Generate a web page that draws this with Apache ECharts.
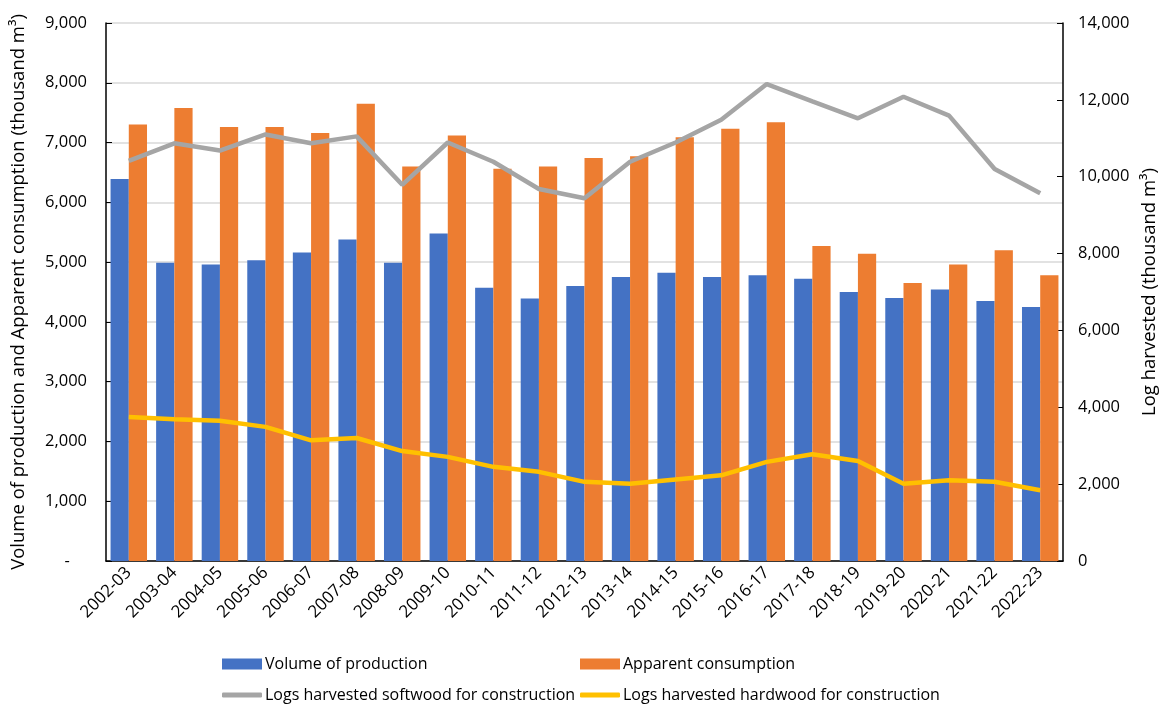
<!DOCTYPE html>
<html>
<head>
<meta charset="utf-8">
<script src="https://cdn.jsdelivr.net/npm/echarts@6/dist/echarts.min.js"></script>
<style>
    html, body { margin: 0; padding: 0; background: #fff; }
    #chart { width: 1159px; height: 704px; }
</style>
</head>
<body>
<div id="chart"></div>
<script>
var years = ['2002-03', '2003-04', '2004-05', '2005-06', '2006-07', '2007-08', '2008-09',
    '2009-10', '2010-11', '2011-12', '2012-13', '2013-14', '2014-15', '2015-16', '2016-17',
    '2017-18', '2018-19', '2019-20', '2020-21', '2021-22', '2022-23'];

// left axis (thousand m3)
var production = [6390, 4990, 4960, 5030, 5160, 5380, 4990, 5480, 4570, 4390, 4600,
    4750, 4820, 4750, 4780, 4720, 4500, 4400, 4540, 4350, 4250];
var consumption = [7300, 7580, 7260, 7260, 7160, 7650, 6600, 7120, 6560, 6600, 6740,
    6770, 7090, 7230, 7340, 5270, 5140, 4650, 4960, 5200, 4780];

// right axis (thousand m3)
var softwood = [10410, 10870, 10680, 11100, 10870, 11050, 9790, 10890, 10390, 9680, 9440,
    10390, 10890, 11480, 12410, 11960, 11520, 12080, 11590, 10200, 9570];
var hardwood = [3750, 3690, 3650, 3490, 3140, 3200, 2860, 2710, 2450, 2320, 2060,
    2010, 2120, 2230, 2580, 2780, 2600, 2010, 2100, 2060, 1840];

var names = ['Volume of production', 'Apparent consumption',
    'Logs harvested softwood for construction', 'Logs harvested hardwood for construction'];

var fontFamily = '"Open Sans", "DejaVu Sans", sans-serif';

function fmt(v) {
    //零值按会计格式显示为短横线
    if (v === 0) return '-    ';
    return v.toLocaleString('en-US');
}

function legendAt(name, left, top, icon) {
    return {
        data: [{name: name, icon: icon}],
        left: left,
        top: top,
        itemWidth: 40,
        itemHeight: icon === 'rect' ? 11 : 5,
        itemGap: 0,
        textStyle: {fontFamily: fontFamily, fontSize: 16, color: '#000', padding: [0, 0, 0, -2]}
    };
}

var myChart = echarts.init(document.getElementById('chart'), null, {renderer: 'canvas'});

var option = {
    animation: false,
    textStyle: {fontFamily: fontFamily},
    grid: {left: 106, right: 96, top: 23, bottom: 143, outerBoundsMode: 'none', containLabel: false},
    legend: [
        legendAt(names[0], 217, 651, 'rect'),
        legendAt(names[1], 575, 651, 'rect'),
        legendAt(names[2], 217, 682, 'roundRect'),
        legendAt(names[3], 575, 682, 'roundRect')
    ],
    xAxis: [{
        type: 'category',
        data: years,
        axisLine: {lineStyle: {color: '#000', width: 1.5}},
        axisTick: {inside: true, length: 6, lineStyle: {color: '#000'}},
        axisLabel: {rotate: 45, color: '#000', fontSize: 17, margin: 9, interval: 0}
    }],
    yAxis: [{
        type: 'value',
        min: 0,
        max: 9000,
        interval: 1000,
        name: 'Volume of production and Apparent consumption (thousand m³)',
        nameLocation: 'middle',
        nameRotate: 90,
        nameGap: 78,
        nameTextStyle: {fontSize: 18.5, color: '#000'},
        axisLine: {show: true, lineStyle: {color: '#000', width: 1.5}},
        axisTick: {show: true, inside: true, length: 6, lineStyle: {color: '#000'}},
        axisLabel: {color: '#000', fontSize: 16.5, margin: 19, formatter: fmt},
        splitLine: {lineStyle: {color: '#d9d9d9', width: 1.5}}
    }, {
        type: 'value',
        min: 0,
        max: 14000,
        interval: 2000,
        name: 'Log harvested (thousand m³)',
        nameLocation: 'middle',
        nameRotate: 90,
        nameGap: 75,
        nameTextStyle: {fontSize: 18.5, color: '#000'},
        axisLine: {show: true, lineStyle: {color: '#000', width: 1.5}},
        axisTick: {show: true, inside: true, length: 6, lineStyle: {color: '#000'}},
        axisLabel: {color: '#000', fontSize: 16.5, margin: 15, formatter: function (v) {
            return v.toLocaleString('en-US');
        }},
        splitLine: {show: false}
    }],
    series: [{
        name: names[0],
        type: 'bar',
        data: production,
        itemStyle: {color: '#4472C4'},
        barGap: '0%',
        barCategoryGap: '20%'
    }, {
        name: names[1],
        type: 'bar',
        data: consumption,
        itemStyle: {color: '#ED7D31'}
    }, {
        name: names[2],
        type: 'line',
        yAxisIndex: 1,
        data: softwood,
        symbol: 'none',
        lineStyle: {color: '#A5A5A5', width: 4.5},
        itemStyle: {color: '#A5A5A5'}
    }, {
        name: names[3],
        type: 'line',
        yAxisIndex: 1,
        data: hardwood,
        symbol: 'none',
        lineStyle: {color: '#FFC000', width: 4.5},
        itemStyle: {color: '#FFC000'}
    }]
};

myChart.setOption(option);
</script>
</body>
</html>
